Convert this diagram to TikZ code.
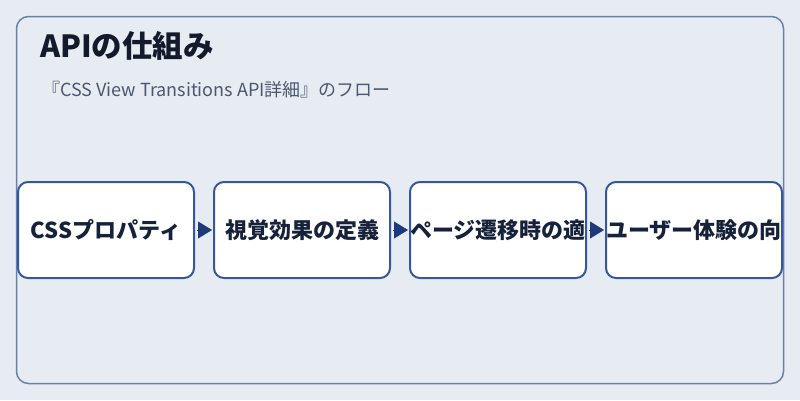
\documentclass[tikz,border=0pt]{standalone}
\usepackage{fontspec}
\setmainfont{Noto Sans CJK JP}
\usetikzlibrary{positioning,arrows.meta}
\definecolor{bgcol}{HTML}{E7ECF2}
\definecolor{framecol}{HTML}{6A80AA}
\definecolor{boxline}{HTML}{3657A0}
\definecolor{arrowcol}{HTML}{1F3A7A}
\definecolor{titlecol}{HTML}{121A2C}
\definecolor{subcol}{HTML}{4A5870}
\definecolor{textcol}{HTML}{16213A}
\tikzset{
  stepbox/.style={draw=boxline, line width=2pt, rounded corners=10pt, fill=white,
    minimum width=176pt, minimum height=96pt, inner sep=0pt, text=textcol,
    font=\bfseries\fontsize{22}{24}\selectfont},
  flowarrow/.style={-{Triangle[length=14pt,width=17pt]}, line width=0.4pt, draw=arrowcol,
    fill=arrowcol, shorten <=2pt, shorten >=1pt}
}

\begin{document}
\begin{tikzpicture}[x=1pt,y=-1pt]
\useasboundingbox[fill=bgcol] (0,0) rectangle (800,400);
% outer frame
\draw[framecol, line width=1.5pt, rounded corners=12pt] (16.5,16.5) rectangle (783.5,383.5);
% title and subtitle
\node[anchor=base west, inner sep=0pt, text=titlecol, font=\bfseries\fontsize{30.5}{32}\selectfont] (title) at (40,57) {APIの仕組み};
\node[anchor=base west, inner sep=0pt, text=subcol, font=\fontsize{18}{20}\selectfont] (subtitle) at (42,96) {『CSS View Transitions API詳細』のフロー};
% flow steps
\node[stepbox] (css) at (106,230) {CSSプロパティ};
\node[stepbox, right=18pt of css] (effect) {視覚効果の定義};
\node[stepbox, right=18pt of effect] (apply) {ページ遷移時の適};
\node[stepbox, right=18pt of apply] (ux) {ユーザー体験の向};
\draw[flowarrow] (css) -- (effect);
\draw[flowarrow] (effect) -- (apply);
\draw[flowarrow] (apply) -- (ux);
\end{tikzpicture}
\end{document}
